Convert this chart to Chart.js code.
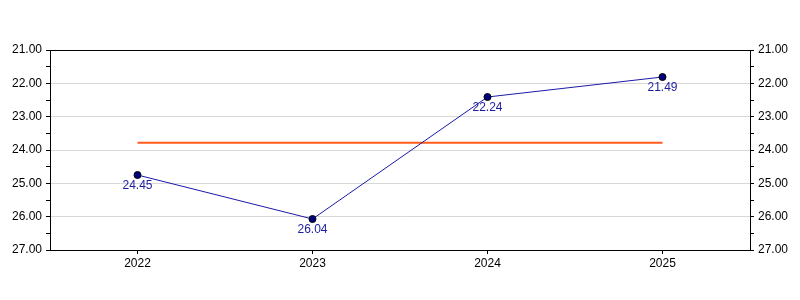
<!DOCTYPE html>
<html>
<head>
<meta charset="utf-8">
<script src="https://cdn.jsdelivr.net/npm/chart.js@4"></script>
<style>
  html, body { margin: 0; padding: 0; background: #fff; }
  #wrap { width: 800px; height: 300px; }
</style>
</head>
<body>
<div id="wrap"><canvas id="chart" width="800" height="300"></canvas></div>
<script>
// values
const years = ['2022', '2023', '2024', '2025'];
const values = [24.75, 26.07, 22.41, 21.81];
const valueLabels = ['24.45', '26.04', '22.24', '21.49'];
const refLevel = [23.78, 23.78, 23.78, 23.78];

const FONT = { family: 'Arial, "Liberation Sans", sans-serif', size: 12 };

// labels under each point
const pointLabels = {
  id: 'pointLabels',
  afterDatasetsDraw(chart) {
    const meta = chart.getDatasetMeta(0);
    const ctx = chart.ctx;
    ctx.save();
    ctx.font = '12px Arial, "Liberation Sans", sans-serif';
    ctx.fillStyle = '#1c1ca0';
    ctx.textAlign = 'center';
    ctx.textBaseline = 'middle';
    meta.data.forEach((pt, i) => {
      ctx.fillText(valueLabels[i], pt.x, pt.y + 11);
    });
    ctx.restore();
  }
};

// black frame round the plot area
const frame = {
  id: 'frame',
  afterDraw(chart) {
    const a = chart.chartArea;
    const ctx = chart.ctx;
    ctx.save();
    ctx.strokeStyle = '#000';
    ctx.lineWidth = 1;
    ctx.strokeRect(a.left + 0.5, a.top + 0.5, a.right - a.left, a.bottom - a.top);
    ctx.restore();
  }
};

const yAxis = (pos) => ({
  position: pos,
  reverse: true,
  min: 21,
  max: 27,
  ticks: {
    stepSize: 0.5,
    autoSkip: false,
    color: '#000',
    font: FONT,
    padding: 4,
    callback: (v) => Number.isInteger(v) ? v.toFixed(2) : ''
  },
  grid: {
    color: (c) => Number.isInteger(c.tick.value) && c.tick.value !== 21 && c.tick.value !== 27 ? '#d8d8d8' : 'rgba(0,0,0,0)',
    tickColor: '#000',
    tickLength: 4,
    drawOnChartArea: pos === 'left'
  },
  border: { color: '#000' },
  afterFit: (s) => { s.width = 50; }
});

new Chart(document.getElementById('chart'), {
  type: 'line',
  data: {
    labels: years,
    datasets: [
      {
        data: values,
        borderColor: '#1a1aa8',
        borderWidth: 1,
        backgroundColor: '#00007a',
        pointBackgroundColor: '#000080',
        pointBorderColor: '#000',
        pointBorderWidth: 1,
        pointRadius: 3.5,
        tension: 0,
        yAxisID: 'y'
      },
      {
        data: refLevel,
        borderColor: '#ff5a1a',
        borderWidth: 2,
        pointRadius: 0,
        tension: 0,
        yAxisID: 'y'
      }
    ]
  },
  options: {
    responsive: false,
    animation: false,
    layout: { padding: { top: 50, left: 0, right: 0, bottom: 0 } },
    plugins: {
      legend: { display: false },
      tooltip: { enabled: false }
    },
    scales: {
      x: {
        offset: true,
        ticks: { color: '#000', font: FONT, padding: 2 },
        grid: { offset: false, drawOnChartArea: false, tickColor: '#000', tickLength: 4 },
        border: { color: '#000' },
        afterFit: (s) => { s.height = 50; }
      },
      y: yAxis('left'),
      y2: yAxis('right')
    }
  },
  plugins: [pointLabels, frame]
});
</script>
</body>
</html>
